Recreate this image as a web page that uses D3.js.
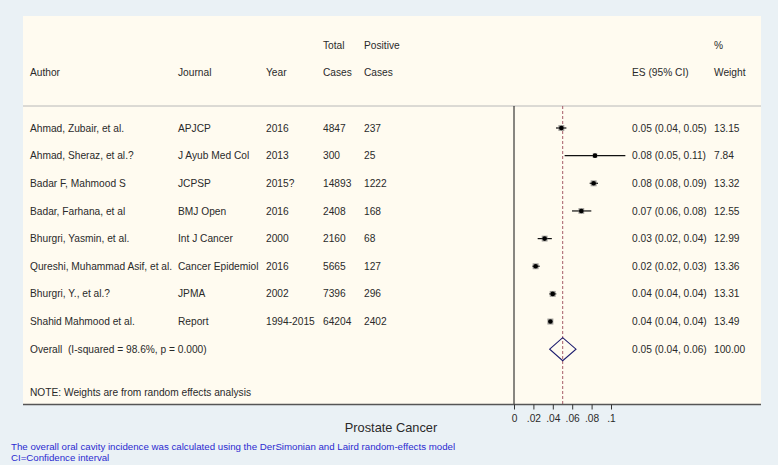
<!DOCTYPE html>
<html>
<head>
<meta charset="utf-8">
<script src="https://cdn.jsdelivr.net/npm/d3@7"></script>
<style>
  body { margin: 0; background: #eaf1f5; }
  text { font-family: "Liberation Sans", Arial, sans-serif; }
</style>
</head>
<body>
<script>
// study table
const authors = ["Ahmad, Zubair, et al.", "Ahmad, Sheraz, et al.?", "Badar F, Mahmood S", "Badar, Farhana, et al",
  "Bhurgri, Yasmin, et al.", "Qureshi, Muhammad Asif, et al.", "Bhurgri, Y., et al.?", "Shahid Mahmood et al."];
const journals = ["APJCP", "J Ayub Med Col", "JCPSP", "BMJ Open", "Int J Cancer", "Cancer Epidemiol", "JPMA", "Report"];
const years = ["2016", "2013", "2015?", "2016", "2000", "2016", "2002", "1994-2015"];
const totalCases = [4847, 300, 14893, 2408, 2160, 5665, 7396, 64204];
const positiveCases = [237, 25, 1222, 168, 68, 127, 296, 2402];
// effect sizes
const es = [0.0488, 0.0835, 0.0821, 0.0694, 0.0316, 0.0223, 0.0399, 0.0375];
const ciLow = [0.0433, 0.0522, 0.078, 0.0598, 0.0244, 0.019, 0.0364, 0.036];
const ciHigh = [0.054, 0.1148, 0.0866, 0.0797, 0.039, 0.0265, 0.0436, 0.039];
const weights = [13.15, 7.84, 13.32, 12.55, 12.99, 13.36, 13.31, 13.49];
// pooled estimate
const overallEs = 0.0502, overallLow = 0.0368, overallHigh = 0.0639, overallWeight = 100;
const xTicks = [0, 0.02, 0.04, 0.06, 0.08, 0.1];

const width = 778, height = 465;
const panel = {left: 23, top: 16, right: 761, bottom: 404.5};
const headerLine = 106;

const svg = d3.select("body").append("svg")
  .attr("width", width)
  .attr("height", height);

svg.append("rect")
  .attr("width", width).attr("height", height)
  .attr("fill", "#eaf1f5");

svg.append("rect")
  .attr("x", panel.left).attr("y", panel.top)
  .attr("width", panel.right - panel.left)
  .attr("height", panel.bottom - panel.top)
  .attr("fill", "#fffbf0");

const x = d3.scaleLinear().domain([0, 0.1]).range([514, 611]);
const y = d3.scaleLinear().domain([0, 8]).range([128, 349.2]);

const col = {author: 30, journal: 178, year: 266, total: 323, positive: 364, es: 632, weight: 714};
const fmt = d3.format(".2f");
const txtColor = "#2a2a2a";

function label(g, xx, yy, s, size) {
  return g.append("text")
    .attr("x", xx).attr("y", yy)
    .attr("dy", "0.35em")
    .attr("font-size", size || 10.2)
    .attr("fill", txtColor)
    .style("white-space", "pre")
    .text(s);
}

// header
const head = svg.append("g");
label(head, col.total, 45, "Total");
label(head, col.positive, 45, "Positive");
label(head, col.weight, 45, "%");
label(head, col.author, 72, "Author");
label(head, col.journal, 72, "Journal");
label(head, col.year, 72, "Year");
label(head, col.total, 72, "Cases");
label(head, col.positive, 72, "Cases");
label(head, col.es, 72, "ES (95% CI)");
label(head, col.weight, 72, "Weight");

svg.append("line")
  .attr("x1", panel.left).attr("x2", panel.right)
  .attr("y1", headerLine).attr("y2", headerLine)
  .attr("stroke", "#b8b8b8").attr("stroke-width", 1);

// table rows
const rows = svg.append("g");
authors.forEach((a, i) => {
  label(rows, col.author, y(i), a);
  label(rows, col.journal, y(i), journals[i]);
  label(rows, col.year, y(i), years[i]);
  label(rows, col.total, y(i), totalCases[i]);
  label(rows, col.positive, y(i), positiveCases[i]);
  label(rows, col.es, y(i), `${fmt(es[i])} (${fmt(ciLow[i])}, ${fmt(ciHigh[i])})`);
  label(rows, col.weight, y(i), fmt(weights[i]));
});
label(rows, col.author, y(8), "Overall  (I-squared = 98.6%, p = 0.000)");
label(rows, col.es, y(8), `${fmt(overallEs)} (${fmt(overallLow)}, ${fmt(overallHigh)})`);
label(rows, col.weight, y(8), fmt(overallWeight));
label(rows, col.author, 392, "NOTE: Weights are from random effects analysis");

// null line
svg.append("line")
  .attr("x1", x(0)).attr("x2", x(0))
  .attr("y1", headerLine).attr("y2", panel.bottom)
  .attr("stroke", "#111").attr("stroke-width", 1);

// overall effect line
svg.append("line")
  .attr("x1", x(overallEs)).attr("x2", x(overallEs))
  .attr("y1", headerLine).attr("y2", panel.bottom)
  .attr("stroke", "#a55a68").attr("stroke-width", 1)
  .attr("stroke-dasharray", "3,2");

// study marks
const marks = svg.append("g");
marks.selectAll(".ci")
  .data(es)
  .enter().append("line")
  .attr("class", "ci")
  .attr("x1", (d, i) => x(ciLow[i]))
  .attr("x2", (d, i) => x(ciHigh[i]))
  .attr("y1", (d, i) => y(i))
  .attr("y2", (d, i) => y(i))
  .attr("stroke", "#111").attr("stroke-width", 1.2);

const boxSize = d3.scaleSqrt().domain([0, 13.5]).range([0, 6]);
marks.selectAll(".box")
  .data(es)
  .enter().append("rect")
  .attr("class", "box")
  .attr("x", (d, i) => x(d) - boxSize(weights[i]) / 2)
  .attr("y", (d, i) => y(i) - boxSize(weights[i]) / 2)
  .attr("width", (d, i) => boxSize(weights[i]))
  .attr("height", (d, i) => boxSize(weights[i]))
  .attr("fill", "#666").attr("opacity", 0.6);

marks.selectAll(".dot")
  .data(es)
  .enter().append("circle")
  .attr("class", "dot")
  .attr("cx", d => x(d))
  .attr("cy", (d, i) => y(i))
  .attr("r", 2.3)
  .attr("fill", "#000");

// pooled diamond
const yo = y(8), dh = 11.5;
svg.append("path")
  .attr("d", `M${x(overallLow)},${yo} L${x(overallEs)},${yo - dh} L${x(overallHigh)},${yo} L${x(overallEs)},${yo + dh} Z`)
  .attr("fill", "none")
  .attr("stroke", "#1c1c6e").attr("stroke-width", 1.1);

// axis
svg.append("line")
  .attr("x1", panel.left).attr("x2", panel.right)
  .attr("y1", panel.bottom).attr("y2", panel.bottom)
  .attr("stroke", "#555").attr("stroke-width", 1.3);

const xAxis = d3.axisBottom(x)
  .tickValues(xTicks)
  .tickSize(5)
  .tickPadding(5)
  .tickFormat(d => String(d).replace(/^0\./, "."));

const ax = svg.append("g")
  .attr("transform", `translate(0,${panel.bottom})`)
  .call(xAxis);
ax.select(".domain").remove();
ax.selectAll(".tick line").attr("stroke", "#333");
ax.selectAll(".tick text")
  .attr("fill", txtColor)
  .attr("font-size", 10.2)
  .style("font-family", '"Liberation Sans", Arial, sans-serif');

svg.append("text")
  .attr("x", 391).attr("y", 428)
  .attr("dy", "0.35em")
  .attr("text-anchor", "middle")
  .attr("font-size", 12.8)
  .attr("fill", txtColor)
  .text("Prostate Cancer");

// footnotes
svg.append("text")
  .attr("x", 11).attr("y", 447).attr("dy", "0.35em")
  .attr("font-size", 9.7).attr("fill", "#2a2ad0")
  .text("The overall oral cavity incidence was calculated using the DerSimonian and Laird random-effects model");
svg.append("text")
  .attr("x", 11).attr("y", 458).attr("dy", "0.35em")
  .attr("font-size", 9.7).attr("fill", "#2a2ad0")
  .text("CI=Confidence interval");
</script>
</body>
</html>
